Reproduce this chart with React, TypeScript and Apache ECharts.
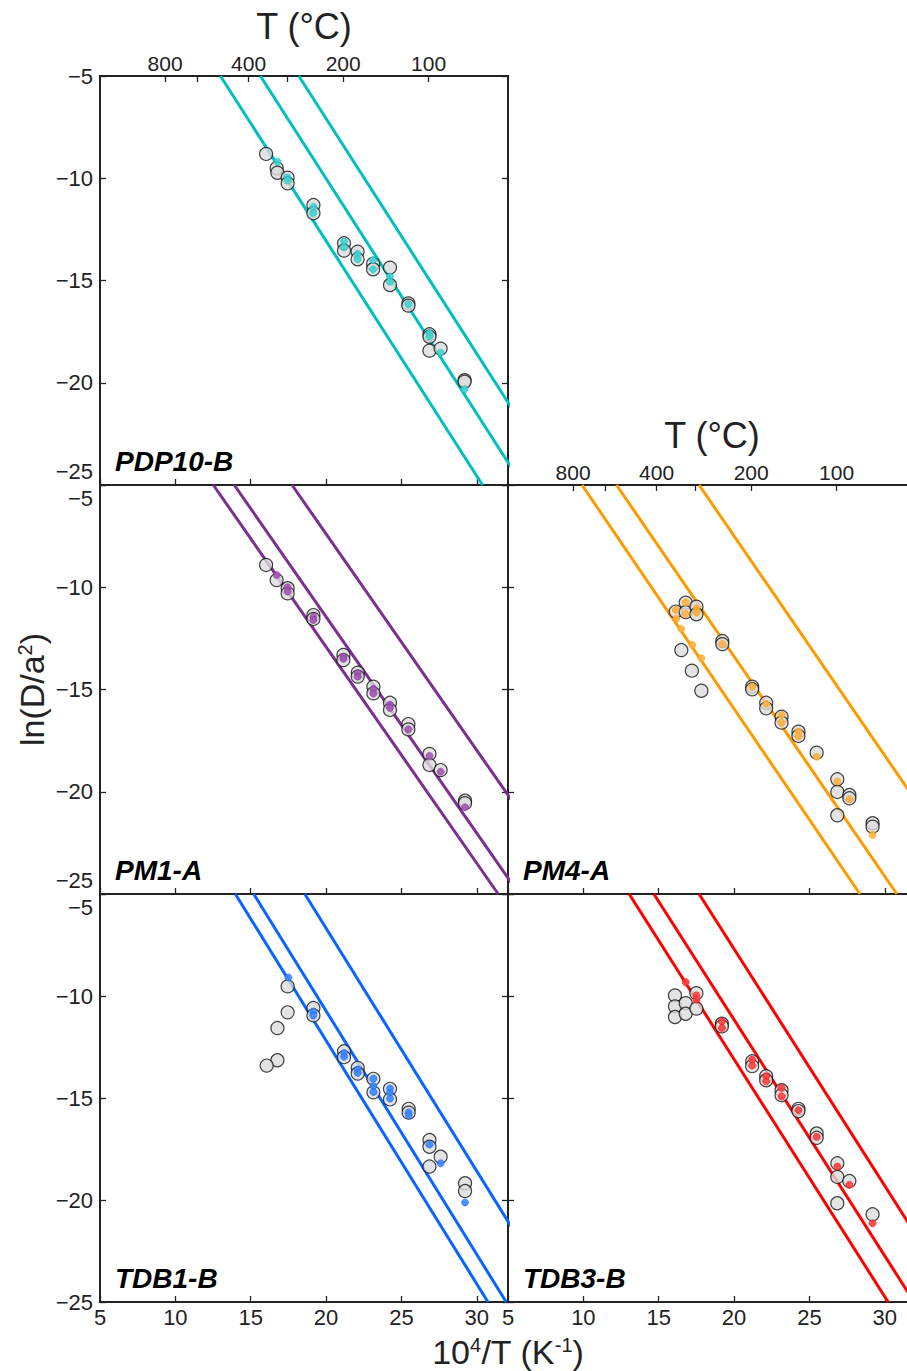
import React, { useEffect, useRef } from 'react';
import * as echarts from 'echarts';

const FONT = '"Liberation Sans", Arial, Helvetica, sans-serif';
const INK = '#222222';

// ---- axis values ----
const xTicks = [5, 10, 15, 20, 25, 30];
const xMin = 5;
const xMax = 32.07;
const yMin = -25;
const yMax = -5;
const yStep = 5;
const tTickCelsius = [800, 600, 400, 300, 200, 100];
const tLabelCelsius = [800, 400, 200, 100];

// ---- panels ----
const panelNames = ['PDP10-B', 'PM1-A', 'PM4-A', 'TDB1-B', 'TDB3-B'];
const lineColors = ['#00BFBF', '#7D2E8F', '#FF9A00', '#0A64FF', '#FF0000'];
const modelColors = ['#3FD0D0', '#A555B5', '#FFB040', '#3C86FF', '#FF4040'];

// measured (grey) points [10^4/T, ln(D/a^2)]
const pdp10Obs = [
  [16.02, -8.81], [16.72, -9.51], [16.77, -9.73], [17.45, -9.97], [17.45, -10.25],
  [19.16, -11.31], [19.16, -11.71], [21.19, -13.18], [21.19, -13.54], [22.09, -13.59],
  [22.09, -13.96], [23.12, -14.19], [23.12, -14.45], [24.24, -14.37], [24.24, -15.22],
  [25.46, -16.12], [25.46, -16.23], [26.86, -17.63], [26.86, -17.75], [26.86, -18.43],
  [27.6, -18.33], [29.19, -19.87], [29.19, -19.95],
];
const pdp10Model = [
  [16.77, -9.19], [17.45, -9.97], [17.45, -10.09], [19.16, -11.4], [19.16, -11.7],
  [21.19, -13.1], [21.19, -13.38], [22.09, -13.7], [22.09, -13.96], [23.12, -14.0],
  [23.12, -14.45], [24.24, -14.81], [24.24, -15.06], [25.46, -16.16], [26.86, -17.57],
  [26.86, -17.73], [27.6, -18.53], [29.19, -20.32],
];
const pm1Obs = [
  [16.02, -8.91], [16.72, -9.65], [17.45, -10.05], [17.45, -10.3], [19.16, -11.36],
  [19.16, -11.55], [21.15, -13.31], [21.15, -13.56], [22.1, -14.18], [22.1, -14.37],
  [23.14, -14.86], [23.14, -15.19], [24.24, -15.65], [24.24, -16.0], [25.46, -16.69],
  [25.46, -16.95], [26.86, -18.15], [26.86, -18.69], [27.6, -18.94], [29.22, -20.44],
  [29.22, -20.56],
];
const pm1Model = [
  [16.72, -9.4], [17.45, -10.0], [17.45, -10.2], [19.16, -11.44], [19.16, -11.6],
  [21.15, -13.39], [21.15, -13.5], [22.1, -14.2], [22.1, -14.37], [23.14, -14.97],
  [23.14, -15.2], [24.24, -15.74], [24.24, -15.9], [25.46, -16.95], [26.86, -18.25],
  [27.6, -19.02], [29.22, -20.76],
];
const pm4Obs = [
  [16.13, -11.19], [16.79, -10.75], [16.79, -11.22], [17.5, -10.95], [17.5, -11.32],
  [16.5, -13.07], [17.2, -14.08], [17.83, -15.06], [19.22, -12.63], [19.22, -12.78],
  [21.2, -14.86], [21.2, -14.99], [22.13, -15.65], [22.13, -15.92], [23.15, -16.33],
  [23.15, -16.62], [24.27, -17.06], [24.27, -17.27], [25.48, -18.09], [26.85, -19.39],
  [26.85, -20.01], [26.85, -21.15], [27.65, -20.16], [27.65, -20.32], [29.19, -21.54],
  [29.19, -21.71],
];
const pm4Model = [
  [16.13, -11.11], [16.79, -10.74], [16.79, -11.31], [17.5, -11.03], [17.5, -11.24],
  [16.17, -11.54], [16.5, -12.04], [17.23, -12.82], [17.83, -13.47], [19.22, -12.78],
  [21.2, -14.86], [22.13, -15.7], [23.15, -16.25], [23.15, -16.62], [24.27, -17.06],
  [24.27, -17.3], [25.48, -18.29], [26.85, -19.5], [27.65, -20.37], [29.19, -22.11],
];
const tdb1Obs = [
  [17.45, -9.53], [17.45, -10.8], [16.77, -11.57], [16.77, -13.15], [16.06, -13.41],
  [19.16, -10.59], [19.16, -10.95], [21.19, -12.71], [21.19, -13.0], [22.1, -13.52],
  [22.1, -13.8], [23.14, -14.06], [23.14, -14.72], [24.24, -14.55], [24.24, -15.07],
  [25.48, -15.53], [25.48, -15.72], [26.86, -17.06], [26.86, -17.39], [26.86, -18.36],
  [27.6, -17.88], [29.22, -19.18], [29.22, -19.56],
];
const tdb1Model = [
  [17.5, -9.09], [19.16, -10.76], [19.16, -10.95], [21.19, -12.79], [21.19, -12.98],
  [22.1, -13.6], [22.1, -13.77], [23.14, -14.05], [23.14, -14.42], [23.14, -14.7],
  [24.24, -14.53], [24.24, -14.74], [24.24, -15.03], [25.48, -15.7], [25.48, -15.85],
  [26.86, -17.28], [27.6, -18.2], [29.22, -20.12],
];
const tdb3Obs = [
  [16.08, -9.97], [16.08, -10.51], [16.08, -11.03], [16.79, -10.35], [16.79, -10.87],
  [17.5, -9.86], [17.5, -10.62], [19.19, -11.36], [19.19, -11.49], [21.2, -13.2],
  [21.2, -13.44], [22.13, -13.93], [22.13, -14.13], [23.15, -14.62], [23.15, -14.86],
  [24.27, -15.53], [24.27, -15.64], [25.48, -16.74], [25.48, -16.95], [26.85, -18.2],
  [26.85, -18.87], [26.85, -20.16], [27.65, -19.07], [29.19, -20.7],
];
const tdb3Model = [
  [16.79, -9.32], [17.5, -9.97], [17.5, -10.18], [19.19, -11.24], [19.19, -11.57],
  [21.2, -13.12], [21.2, -13.41], [22.13, -13.93], [22.13, -14.18], [23.15, -14.51],
  [23.15, -14.92], [24.27, -15.6], [25.48, -16.9], [26.85, -18.36], [27.65, -19.26],
  [29.19, -21.14],
];

// Arrhenius lines: [start, end] in data units
const pdp10Lines = [
  [[12.99, -5], [30.38, -25]], [[15.64, -5], [33.03, -25]], [[18.19, -5], [35.58, -25]],
];
const pm1Lines = [
  [[12.52, -5], [31.42, -25]], [[13.91, -5], [32.81, -25]], [[17.74, -5], [36.64, -25]],
];
const pm4Lines = [
  [[9.91, -5], [28.35, -25]], [[12.2, -5], [30.8, -25]], [[17.68, -5], [36.3, -25]],
];
const tdb1Lines = [
  [[13.98, -5], [30.74, -25]], [[15.2, -5], [31.95, -25]], [[18.59, -5], [35.39, -25]],
];
const tdb3Lines = [
  [[13.04, -5], [30.22, -25]], [[14.68, -5], [31.95, -25]], [[17.68, -5], [34.9, -25]],
];

const obsSets = [pdp10Obs, pm1Obs, pm4Obs, tdb1Obs, tdb3Obs];
const modelSets = [pdp10Model, pm1Model, pm4Model, tdb1Model, tdb3Model];
const lineSets = [pdp10Lines, pm1Lines, pm4Lines, tdb1Lines, tdb3Lines];

// ---- layout (pixels) ----
const layout = [
  { left: 100, top: 76, height: 409, row: 0 },
  { left: 100, top: 485, height: 409, row: 1 },
  { left: 508, top: 485, height: 409, row: 1 },
  { left: 100, top: 894, height: 408, row: 2 },
  { left: 508, top: 894, height: 408, row: 2 },
];
const GRID_W = 408;
const showYLabels = [true, true, false, true, false];
const showXLabels = [false, false, false, true, true];
const showTAxis = [true, false, true, false, false];

const fmtNum = (v: number) => (v < 0 ? '\u2212' + Math.abs(v) : String(v));
const toInvT = (c: number) => 1e4 / (c + 273.15);

function buildOption() {
  const grid: any[] = [];
  const xAxis: any[] = [];
  const yAxis: any[] = [];
  const series: any[] = [];
  const graphic: any[] = [];

  const labelBase = { fontFamily: FONT, fontSize: 22, color: INK };
  const tick = { show: true, inside: true, length: 6, lineStyle: { color: INK, width: 1.3 } };
  const axLine = { show: true, lineStyle: { color: INK, width: 2 } };

  layout.forEach((L, i) => {
    grid.push({
      left: L.left, top: L.top, width: GRID_W, height: L.height,
      containLabel: false, outerBoundsMode: 'none',
    });

    xAxis.push({
      type: 'value', gridIndex: i, position: 'bottom', min: xMin, max: xMax,
      axisLine: axLine,
      axisTick: { ...tick, customValues: xTicks },
      axisLabel: {
        show: showXLabels[i], customValues: xTicks, margin: 4, ...labelBase,
        formatter: (v: number) => String(v),
      },
      splitLine: { show: false },
    });
    if (showTAxis[i]) {
      xAxis.push({
        type: 'value', gridIndex: i, position: 'top', min: xMin, max: xMax,
        axisLine: axLine,
        axisTick: { ...tick, customValues: tTickCelsius.map(toInvT) },
        axisLabel: {
          show: true, customValues: tLabelCelsius.map(toInvT), margin: 2, ...labelBase, fontSize: 21,
          formatter: (v: number) => String(Math.round(1e4 / v - 273.15)),
        },
        splitLine: { show: false },
        name: 'T (\u00B0C)', nameLocation: 'middle', nameGap: 32,
        nameTextStyle: { fontFamily: FONT, fontSize: 36, color: INK },
      });
    } else {
      xAxis.push({
        type: 'value', gridIndex: i, position: 'top', min: xMin, max: xMax,
        axisLine: axLine, axisTick: { show: false }, axisLabel: { show: false },
        splitLine: { show: false },
      });
    }

    const row = L.row;
    yAxis.push({
      type: 'value', gridIndex: i, position: 'left', min: yMin, max: yMax, interval: yStep,
      axisLine: axLine,
      axisTick: tick,
      axisLabel: {
        show: showYLabels[i], margin: 7, ...labelBase,
        formatter: (v: number) => {
          const s = fmtNum(v);
          if (v === -25 && row < 2) return '{up|' + s + '}';
          if (v === -5 && row > 0) return '{dn|' + s + '}';
          return s;
        },
        rich: {
          up: { ...labelBase, padding: [0, 0, 27, 0] },
          dn: { ...labelBase, padding: [27, 0, 0, 0] },
        },
      },
      splitLine: { show: false },
      ...(i === 1
        ? {
            name: 'ln(D/a{sup|2})', nameLocation: 'middle', nameRotate: 90, nameGap: 51,
            nameTextStyle: {
              fontFamily: FONT, fontSize: 34, color: INK,
              rich: { sup: { fontFamily: FONT, fontSize: 20, color: INK, verticalAlign: 'top' } },
            },
          }
        : {}),
    });
    yAxis.push({
      type: 'value', gridIndex: i, position: 'right', min: yMin, max: yMax, interval: yStep,
      axisLine: axLine, axisTick: tick, axisLabel: { show: false }, splitLine: { show: false },
    });

    const xi = 2 * i;
    const yi = 2 * i;
    lineSets[i].forEach((seg, k) => {
      series.push({
        type: 'line', name: panelNames[i] + ' line ' + (k + 1), xAxisIndex: xi, yAxisIndex: yi,
        data: seg, symbol: 'none', showSymbol: false, clip: true, silent: true, z: 2,
        lineStyle: { color: lineColors[i], width: 3 },
      });
    });
    series.push({
      type: 'scatter', name: panelNames[i] + ' measured', xAxisIndex: xi, yAxisIndex: yi,
      data: obsSets[i], symbol: 'circle', symbolSize: 13, z: 3, silent: true,
      itemStyle: { color: '#DCDCDC', borderColor: '#111111', borderWidth: 1.2 },
    });
    series.push({
      type: 'scatter', name: panelNames[i] + ' model', xAxisIndex: xi, yAxisIndex: yi,
      data: modelSets[i], symbol: 'circle', symbolSize: 7, z: 4, silent: true,
      itemStyle: { color: modelColors[i], opacity: 0.9, borderColor: lineColors[i], borderWidth: 0.6 },
    });

    graphic.push({
      type: 'text', left: L.left + 15, top: L.top + L.height - 38, z: 10,
      style: {
        text: panelNames[i], fontFamily: FONT, fontSize: 28, fontWeight: 'bold',
        fontStyle: 'italic', fill: '#000',
      },
    });
  });

  graphic.push({
    type: 'text', x: 508, y: 1352, z: 10,
    style: {
      text: '10{sup|4}/T (K{sup|-1})', fontFamily: FONT, fontSize: 34, fill: INK,
      align: 'center', verticalAlign: 'middle',
      rich: { sup: { fontFamily: FONT, fontSize: 20, fill: INK, verticalAlign: 'top' } },
    },
  });

  return {
    animation: false,
    backgroundColor: '#ffffff',
    textStyle: { fontFamily: FONT },
    grid, xAxis, yAxis, series, graphic,
  };
}

export default function App() {
  const ref = useRef<HTMLDivElement>(null);
  useEffect(() => {
    if (!ref.current) return;
    const chart = echarts.init(ref.current, undefined, { renderer: 'svg' });
    chart.setOption(buildOption() as any);
    return () => chart.dispose();
  }, []);
  return (
    <div
      ref={ref}
      style={{ position: 'absolute', left: 0, top: 0, width: 907, height: 1371, background: '#fff' }}
    />
  );
}
